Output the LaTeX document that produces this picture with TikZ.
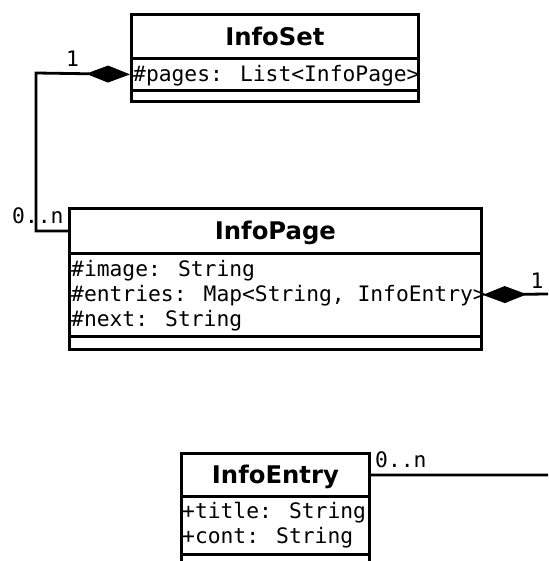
\documentclass[tikz,border=0pt]{standalone}
\usepackage{fontspec}
\usetikzlibrary{arrows.meta}
% fonts for class names and for members / multiplicities
\newfontfamily\umltitle{DejaVu Sans}
\newfontfamily\umlmono{DejaVu Sans Mono}
\begin{document}
\begin{tikzpicture}[x=1pt,y=-1pt,
  compartment/.style={draw, line width=2.8pt, inner sep=0pt, anchor=north west},
  classname/.style={compartment, font=\umltitle\bfseries\fontsize{24.3}{28}\selectfont,
                    text height=17.7pt, text depth=0pt},
  member/.style={anchor=base west, inner sep=0pt, font=\umlmono\fontsize{21.3}{25}\selectfont},
  mult/.style={inner sep=0pt, font=\umlmono\fontsize{21.3}{25}\selectfont},
  assoc/.style={draw, line width=2.8pt},
  composite/.style={assoc, {Diamond[length=44pt,width=17pt,line width=1pt]}-}]
\useasboundingbox (0,0) rectangle (548,561);
\clip (0,0) rectangle (548,561);

% class InfoSet
\node[classname, minimum width=287pt, minimum height=44pt] (setT) at (130,13) {InfoSet};
\node[compartment, minimum width=287pt, minimum height=32pt] (setA) at (130,57) {};
\node[compartment, minimum width=287pt, minimum height=11pt] (setM) at (130,89) {};
\node[member] (setA1) at (133,82) {\#pages: List<InfoPage>};

% class InfoPage
\node[classname, minimum width=412pt, minimum height=45pt] (pageT) at (68,207) {InfoPage};
\node[compartment, minimum width=412pt, minimum height=83pt] (pageA) at (68,252) {};
\node[compartment, minimum width=412pt, minimum height=13pt] (pageM) at (68,335) {};
\node[member] (pageA1) at (71,276) {\#image: String};
\node[member] (pageA2) at (71,301) {\#entries: Map<String, InfoEntry>};
\node[member] (pageA3) at (71,326) {\#next: String};

% class InfoEntry
\node[classname, minimum width=188pt, minimum height=43pt] (entryT) at (180,452) {InfoEntry};
\node[compartment, minimum width=188pt, minimum height=58pt] (entryA) at (180,495) {};
\node[compartment, minimum width=188pt, minimum height=13pt] (entryM) at (180,553) {};
\node[member] (entryA1) at (182,518) {+title: String};
\node[member] (entryA2) at (182,543) {+cont: String};

% InfoSet <>-- InfoPage
\coordinate (bendSet) at (36,73);
\draw[composite] (setA.west) -- (bendSet) |- (pageT.west);
\node[mult, anchor=base] (mSet) at (72.5,67) {1};
\node[mult, anchor=base west] (mPage) at (12,223) {0..n};

% InfoPage <>-- InfoEntry
\coordinate (bendPage) at (580,293.5);
\draw[composite] (pageA.east) -- (bendPage) |- (entryT.east);
\node[mult, anchor=base] (mPageOne) at (537,288) {1};
\node[mult, anchor=base west] (mEntry) at (375,467) {0..n};
\end{tikzpicture}
\end{document}
